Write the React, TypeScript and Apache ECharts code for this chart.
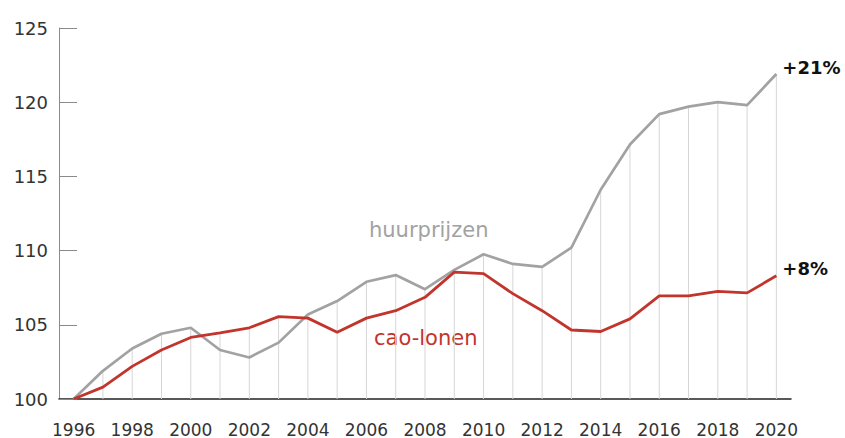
import React, { useEffect, useRef } from "react";
import * as echarts from "echarts";

const years = [
  "1996", "1997", "1998", "1999", "2000", "2001", "2002", "2003", "2004",
  "2005", "2006", "2007", "2008", "2009", "2010", "2011", "2012", "2013",
  "2014", "2015", "2016", "2017", "2018", "2019", "2020",
];
const huurprijzen = [
  100, 101.9, 103.4, 104.4, 104.8, 103.3, 102.8, 103.8, 105.7, 106.6, 107.9,
  108.35, 107.4, 108.7, 109.75, 109.1, 108.9, 110.2, 114.1, 117.15, 119.2,
  119.7, 120.0, 119.8, 121.9,
];
const caoLonen = [
  100, 100.8, 102.2, 103.3, 104.15, 104.45, 104.8, 105.55, 105.45, 104.5,
  105.45, 105.95, 106.85, 108.55, 108.45, 107.1, 105.95, 104.65, 104.55, 105.4,
  106.95, 106.95, 107.25, 107.15, 108.3,
];
const yTicks = { min: 100, max: 125, interval: 5 };
const endLabels = ["+21%", "+8%"];

export default function App() {
  const ref = useRef<HTMLDivElement>(null);
  useEffect(() => {
    document.body.style.margin = "0";
    const chart = echarts.init(ref.current!, undefined, { renderer: "svg" });
    const maxVals = huurprijzen.map((v, i) => Math.max(v, caoLonen[i]));
    const font = "DejaVu Sans";
    chart.setOption({
      animation: false,
      grid: { left: 59, right: 54, top: 28, bottom: 37 },
      xAxis: {
        type: "category",
        data: years,
        boundaryGap: true,
        axisLine: { lineStyle: { color: "#222", width: 1.5 } },
        axisTick: {
          alignWithLabel: true,
          interval: 1,
          length: 14,
          lineStyle: { color: "#d2d2d2", width: 1 },
        },
        axisLabel: {
          interval: 1,
          margin: 22,
          color: "#333",
          fontFamily: font,
          fontSize: 17,
        },
        splitLine: { show: false },
      },
      yAxis: {
        type: "value",
        min: yTicks.min,
        max: yTicks.max,
        interval: yTicks.interval,
        axisLine: { show: true, lineStyle: { color: "#8a8a8a", width: 1 } },
        axisTick: {
          show: true,
          inside: true,
          length: 18,
          lineStyle: { color: "#8a8a8a", width: 1 },
        },
        axisLabel: {
          margin: 11,
          color: "#333",
          fontFamily: font,
          fontSize: 18,
        },
        splitLine: { show: false },
      },
      series: [
        {
          type: "bar",
          data: maxVals,
          barWidth: 1,
          itemStyle: { color: "#d6d6d6" },
          silent: true,
          z: 1,
        },
        {
          type: "line",
          data: huurprijzen,
          symbol: "none",
          lineStyle: { color: "#a2a2a2", width: 2.7 },
          z: 3,
          endLabel: {
            show: true,
            formatter: endLabels[0],
            distance: 6,
            offset: [0, -7],
            color: "#111",
            fontFamily: font,
            fontWeight: "bold",
            fontSize: 18,
          },
        },
        {
          type: "line",
          data: caoLonen,
          symbol: "none",
          lineStyle: { color: "#c1352d", width: 2.8 },
          z: 4,
          endLabel: {
            show: true,
            formatter: endLabels[1],
            distance: 6,
            offset: [0, -7],
            color: "#111",
            fontFamily: font,
            fontWeight: "bold",
            fontSize: 18,
          },
        },
      ],
      graphic: [
        {
          type: "text",
          left: 369,
          top: 219,
          style: {
            text: "huurprijzen",
            fill: "#a2a2a2",
            font: `21px "${font}"`,
          },
        },
        {
          type: "text",
          left: 374,
          top: 327,
          style: {
            text: "cao-lonen",
            fill: "#c1352d",
            font: `21px "${font}"`,
          },
        },
      ],
    });
    return () => chart.dispose();
  }, []);
  return <div ref={ref} style={{ width: 845, height: 438 }} />;
}
